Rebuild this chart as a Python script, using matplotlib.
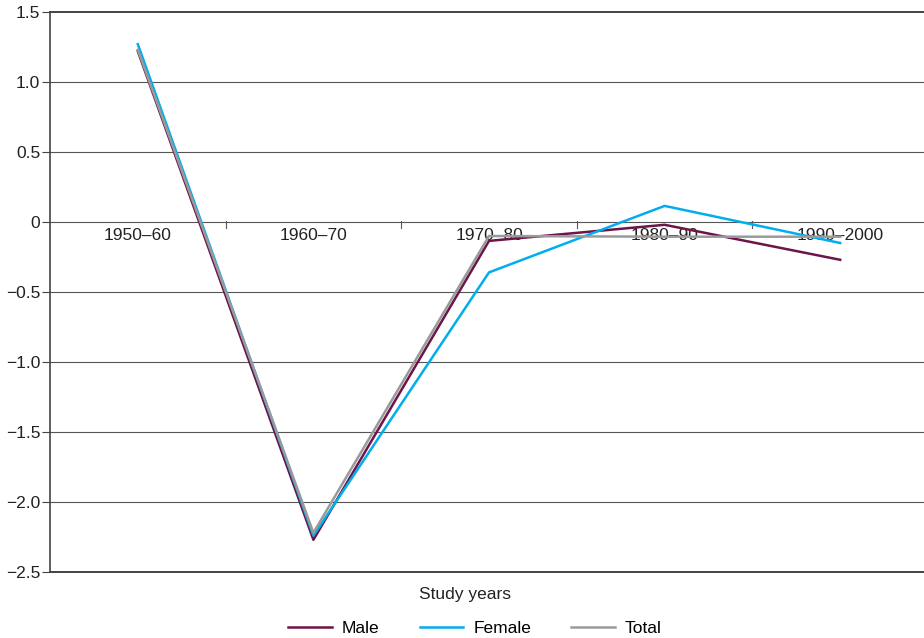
import matplotlib
matplotlib.use("Agg")
import matplotlib.pyplot as plt

plt.rcParams['font.family'] = ['Liberation Sans', 'DejaVu Sans']

categories = ["1950\u201360", "1960\u201370", "1970\u201380", "1980\u201390", "1990\u20132000"]
male = [1.22, -2.27, -0.135, -0.02, -0.27]
female = [1.27, -2.24, -0.36, 0.115, -0.15]
total = [1.23, -2.22, -0.10, -0.105, -0.105]
yticks = [1.5, 1.0, 0.5, 0, -0.5, -1.0, -1.5, -2.0, -2.5]
ytick_labels = ["1.5", "1.0", "0.5", "0", "\u22120.5", "\u22121.0", "\u22121.5", "\u22122.0", "\u22122.5"]

FS = 12.5
fig = plt.figure(figsize=(9.24, 6.38), dpi=100)
ax = fig.add_axes([50/924, 66/638, 878/924, 560/638])
x = list(range(len(categories)))

for yv in yticks:
    dark = yv in (1.5, -2.5)
    ax.axhline(yv, color='#222222' if dark else '#555555',
               lw=1.2 if dark else 0.8, zorder=1, clip_on=False)

ax.plot(x, male, color='#6B1548', lw=1.8, label='Male', zorder=3)
ax.plot(x, female, color='#00AEEF', lw=1.8, label='Female', zorder=4)
ax.plot(x, total, color='#9A9A9A', lw=1.8, label='Total', zorder=5)

ax.set_xlim(-0.5, 4.5)
ax.set_ylim(-2.5, 1.5)
for s in ['top', 'right', 'bottom']:
    ax.spines[s].set_visible(False)
ax.spines['left'].set_color('#444444')
ax.spines['left'].set_linewidth(1.2)

ax.set_yticks(yticks)
ax.set_yticklabels(ytick_labels, fontsize=FS, color='#222222')
ax.tick_params(axis='y', length=6, color='#444444', pad=1)
ax.set_xticks([])

# category tick marks on the zero line
for b in [0.5, 1.5, 2.5, 3.5]:
    ax.plot([b, b], [0.01, -0.04], color='#555555', lw=0.8, zorder=2)
for xi, c in zip(x, categories):
    ax.text(xi, -0.04, c, ha='center', va='top', fontsize=FS, color='#222222', zorder=2)

fig.text(465/924, 1 - 595/638, "Study years", ha='center', va='center', fontsize=FS, color='#222222')
handles, labels = ax.get_legend_handles_labels()
fig.legend(handles, labels, loc='center', bbox_to_anchor=(475/924, 1 - 628/638), ncol=3,
           frameon=False, fontsize=FS, handlelength=2.5, columnspacing=2.3, handletextpad=0.6)

fig.savefig("out.png", dpi=100)
